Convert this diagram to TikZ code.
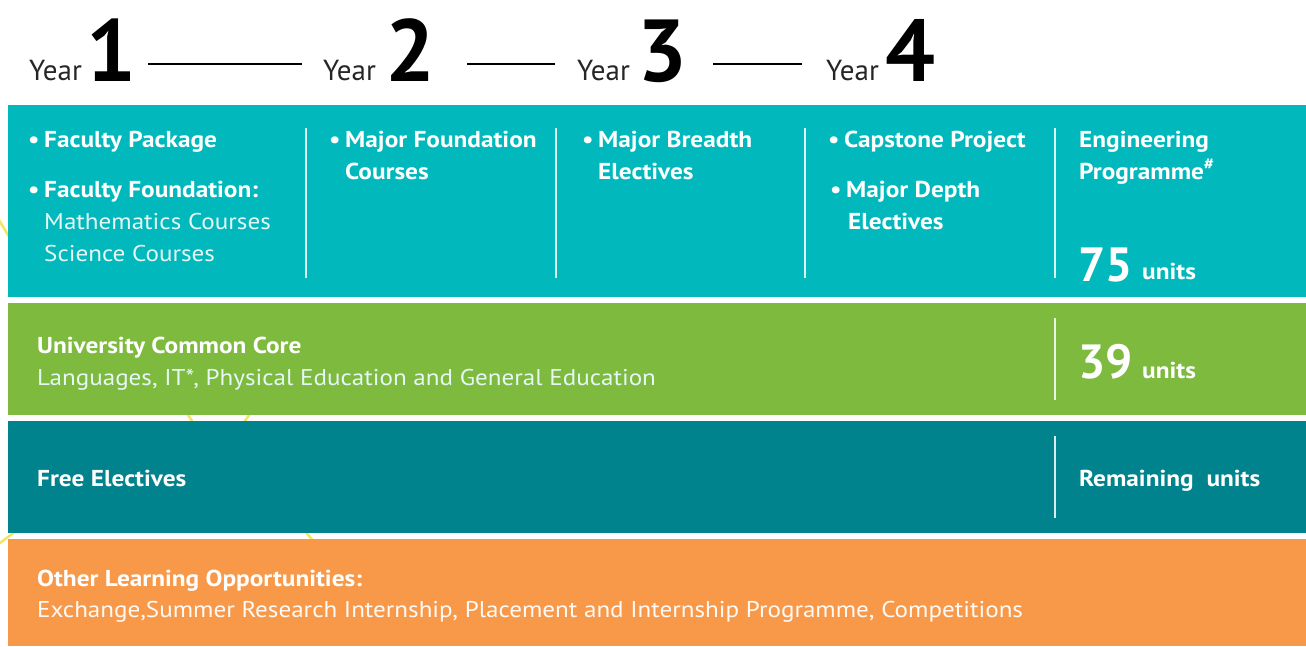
\documentclass[tikz,border=0pt]{standalone}
\usepackage{fontspec}
\setmainfont{PT Sans}
\newfontfamily\bodyfont[FakeStretch=1.1]{PT Sans}
\definecolor{tealA}{HTML}{01B9BD}
\definecolor{greenA}{HTML}{7DBA3E}
\definecolor{tealB}{HTML}{00838C}
\definecolor{orangeA}{HTML}{F8994A}
\definecolor{hexline}{HTML}{F3E463}
\definecolor{softwhite}{HTML}{E6F7F6}
\tikzset{
  band/.style={fill=#1, draw=none},
  yearlbl/.style={anchor=base west, inner sep=0pt, text=black!85, font=\fontsize{29}{29}\selectfont},
  yeardigit/.style={anchor=base west, inner sep=0pt, text=black, font=\fontsize{88}{88}\selectfont\bfseries},
  yearline/.style={draw=black, line width=1.5pt},
  hb/.style={anchor=base west, inner sep=0pt, text=white, font=\bodyfont\fontsize{23}{26}\selectfont\bfseries},
  hr/.style={anchor=base west, inner sep=0pt, text=softwhite, font=\bodyfont\fontsize{22.8}{26}\selectfont},
  bignum/.style={anchor=base west, inner sep=0pt, text=white, font=\fontsize{48}{48}\selectfont\bfseries},
  divider/.style={draw=white, draw opacity=0.85, line width=1.5pt},
  deco/.style={draw=hexline, line width=2.5pt}
}
\newcommand{\bul}{\makebox[16pt][l]{\textbullet}}
\begin{document}
\begin{tikzpicture}[x=1pt,y=-1pt]
\useasboundingbox (0,0) rectangle (1306,646);
\fill[white] (0,0) rectangle (1306,646);
% decorative background lines
\draw[deco] (-10,205) -- (20,255);
\draw[deco] (172,392) -- (208,444);
\draw[deco] (228,444) -- (266,392);
\draw[deco] (-12,552) -- (28,522);
\draw[deco] (292,516) -- (328,558);
% bands
\fill[band=tealA] (8,105) rectangle (1306,297);
\fill[band=greenA] (8,303) rectangle (1306,415);
\fill[band=tealB] (8,421) rectangle (1306,533);
\fill[band=orangeA] (8,539) rectangle (1306,646);
% header
\node[yearlbl] (y1) at (29,80) {Year};
\node[yeardigit] (d1) at (86,81) {1};
\node[yearlbl] (y2) at (323,80) {Year};
\node[yeardigit] (d2) at (385,81) {2};
\node[yearlbl] (y3) at (577,80) {Year};
\node[yeardigit] (d3) at (637,81) {3};
\node[yearlbl] (y4) at (826,80) {Year};
\node[yeardigit] (d4) at (885,81) {4};
\coordinate (l1a) at (148,64); \coordinate (l1b) at (302,64);
\coordinate (l2a) at (467,64); \coordinate (l2b) at (555,64);
\coordinate (l3a) at (713,64); \coordinate (l3b) at (802,64);
\draw[yearline] (l1a) -- (l1b);
\draw[yearline] (l2a) -- (l2b);
\draw[yearline] (l3a) -- (l3b);
% dividers
\foreach \x/\n in {306/a,556/b,805/c,1055/d}{
  \coordinate (dv\n t) at (\x,128); \coordinate (dv\n b) at (\x,278);
  \draw[divider] (dv\n t) -- (dv\n b);
}
\coordinate (gdt) at (1055,318); \coordinate (gdb) at (1055,400);
\draw[divider] (gdt) -- (gdb);
\coordinate (fdt) at (1055,436); \coordinate (fdb) at (1055,518);
\draw[divider] (fdt) -- (fdb);
% teal band texts
\node[hb] (c1a) at (28,147) {\bul Faculty Package};
\node[hb] (c1b) at (28,197) {\bul Faculty Foundation:};
\node[hr] (c1c) at (44,229) {Mathematics Courses};
\node[hr] (c1d) at (44,261) {Science Courses};
\node[hb] (c2a) at (329,147) {\bul Major Foundation};
\node[hb] (c2b) at (345,179) {Courses};
\node[hb] (c3a) at (582,147) {\bul Major Breadth};
\node[hb] (c3b) at (598,179) {Electives};
\node[hb] (c4a) at (828,147) {\bul Capstone Project};
\node[hb] (c4b) at (830,197) {\bul Major Depth};
\node[hb] (c4c) at (848,229) {Electives};
\node[hb] (c5a) at (1079,147) {Engineering};
\node[hb] (c5b) at (1079,179) {Programme\textsuperscript{\#}};
\node[bignum] (n75) at (1078,281) {75};
\node[hb] (u75) at (1142,279) {units};
% green band
\node[hb] (ucc) at (37,353) {University Common Core};
\node[hr] (uccd) at (37,385) {Languages, IT*, Physical Education and General Education};
\node[bignum] (n39) at (1078,378) {39};
\node[hb] (u39) at (1142,378) {units};
% dark teal band
\node[hb] (fe) at (37,486) {Free Electives};
\node[hb] (rem) at (1079,486) {Remaining\ \ units};
% orange band
\node[hb] (olo) at (37,586) {Other Learning Opportunities:};
\node[hr, text=white!95!orangeA] (olod) at (37,617) {Exchange,Summer Research Internship, Placement and Internship Programme, Competitions};
\end{tikzpicture}
\end{document}
